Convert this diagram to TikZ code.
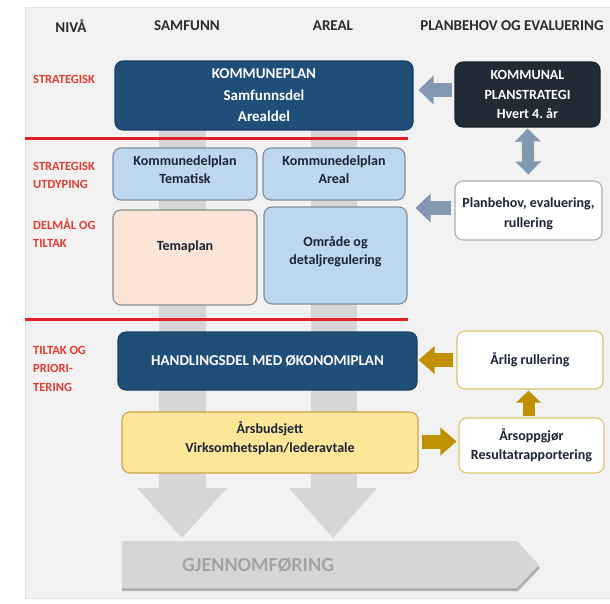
\documentclass[tikz,border=0pt]{standalone}
\usepackage{fontspec}
\setmainfont{Carlito}
\usetikzlibrary{arrows.meta,calc}
\definecolor{panelbg}{HTML}{F2F2F2}
\definecolor{panelline}{HTML}{E2E2E2}
\definecolor{darkblue}{HTML}{1F4E79}
\definecolor{darkblueline}{HTML}{1A4066}
\definecolor{navy}{HTML}{222A35}
\definecolor{lightblue}{HTML}{BDD7EE}
\definecolor{lightblueline}{HTML}{7F8C9D}
\definecolor{peach}{HTML}{FBE5D6}
\definecolor{greyline}{HTML}{8C8C8C}
\definecolor{yellowfill}{HTML}{FFE699}
\definecolor{goldline}{HTML}{C9A648}
\definecolor{paleline}{HTML}{D9C46A}
\definecolor{boxtext}{HTML}{1B2436}
\definecolor{headtext}{HTML}{2B2B2B}
\definecolor{redlabel}{HTML}{E03C31}
\definecolor{redline}{HTML}{E3202A}
\definecolor{bluearrow}{HTML}{8497B0}
\definecolor{goldarrow}{HTML}{BF9000}
\definecolor{barcol}{HTML}{D6D6D6}
\definecolor{bigshadow}{HTML}{AFAFAF}
\definecolor{gjtext}{HTML}{A3A3A3}
\newcommand\myfs[2]{\fontsize{#1}{#2}\selectfont\bfseries}
\begin{document}
\begin{tikzpicture}[x=1pt,y=-1pt,
  boxbase/.style={rounded corners=8pt, inner sep=0pt, align=center, line width=1.1pt},
  darkbox/.style={boxbase, fill=darkblue, draw=darkblueline, text=white, font=\myfs{15}{21.5}},
  navybox/.style={boxbase, fill=navy, draw=navy!80!black, text=white, font=\myfs{14}{19.5}},
  bluebox/.style={boxbase, fill=lightblue, draw=lightblueline, text=boxtext, font=\myfs{14}{18}},
  peachbox/.style={boxbase, fill=peach, draw=greyline, text=boxtext, font=\myfs{14}{18}},
  yellowbox/.style={boxbase, fill=yellowfill, draw=goldline, text=boxtext, font=\myfs{14}{19}},
  whitebox/.style={boxbase, fill=white, draw=greyline!70, text=boxtext, font=\myfs{14}{20}},
  goldbox/.style={boxbase, fill=white, draw=paleline, text=boxtext, font=\myfs{14}{19}},
  txt/.style={inner sep=0pt, align=center, text=boxtext, font=\myfs{14}{18}},
  header/.style={inner sep=0pt, text=headtext, font=\myfs{15}{18}},
  levellabel/.style={inner sep=0pt, anchor=west, align=left, text=redlabel, font=\myfs{12.5}{18.5}},
  sepline/.style={draw=redline, line width=3pt},
  blockblue/.style={draw=bluearrow, line width=14pt, -{Triangle[width=28pt,length=15pt]}},
  blockbluedouble/.style={draw=bluearrow, line width=12pt, {Triangle[width=25pt,length=13pt]}-{Triangle[width=25pt,length=13pt]}},
  blockgold/.style={draw=goldarrow, line width=14pt, -{Triangle[width=27pt,length=16pt]}},
  blockgoldup/.style={draw=goldarrow, line width=12pt, -{Triangle[width=24pt,length=12pt]}}
]
\useasboundingbox (0,0) rectangle (610,603);
% background panel
\fill[white] (0,0) rectangle (610,603);
\fill[panelbg, draw=panelline] (25,7) rectangle (611,598);

% column bars and down arrow heads
\fill[barcol] (159,100) rectangle (206,490);
\fill[barcol] (311,100) rectangle (357,490);
\fill[barcol] (137,488) -- (227,488) -- (182,538) -- cycle;
\fill[barcol] (289,488) -- (377,488) -- (333,538) -- cycle;

% implementation arrow
\fill[bigshadow] (122,544) -- (518,544) -- (540,568) -- (518,591) -- (122,591) -- cycle;
\fill[barcol] (122,541) -- (517,541) -- (539,565) -- (517,588) -- (122,588) -- cycle;
\node[inner sep=0pt, anchor=west, text=gjtext, font=\myfs{20}{24}] (gj) at (182,565) {GJENNOMFØRING};

% separator lines
\draw[sepline] (25,138) -- (408,138);
\draw[sepline] (25,319) -- (408,319);

% headers
\node[header] (hniva) at (71,26) {NIVÅ};
\node[header] (hsam) at (187,26) {SAMFUNN};
\node[header] (hareal) at (333,26) {AREAL};
\node[header] (hplan) at (512,26) {PLANBEHOV OG EVALUERING};

% level labels
\node[levellabel] (l1) at (33,79) {STRATEGISK};
\node[levellabel] (l2) at (33,175.5) {STRATEGISK\\UTDYPING};
\node[levellabel] (l3) at (33,233) {DELMÅL OG\\TILTAK};
\node[levellabel] (l4) at (33,368.5) {TILTAK OG\\PRIORI-\\TERING};

% main boxes
\node[darkbox, minimum width=298pt, minimum height=69pt] (kp) at (264,95.5)
  {KOMMUNEPLAN\\Samfunnsdel\\Arealdel};
\node[bluebox, minimum width=144pt, minimum height=52pt] (kt) at (185,174) {};
\node[txt] (ktt) at (185,170) {Kommunedelplan\\Tematisk};
\node[bluebox, minimum width=142pt, minimum height=52pt] (ka) at (334,174) {};
\node[txt] (kat) at (334,170) {Kommunedelplan\\Areal};
\node[peachbox, minimum width=144pt, minimum height=95pt] (tema) at (185,257.5) {};
\node[txt] (temat) at (185,247) {Temaplan};
\node[bluebox, minimum width=143pt, minimum height=97pt] (omr) at (335.5,255.5) {};
\node[txt] (omrt) at (335.5,252) {Område og\\detaljregulering};
\node[darkbox, minimum width=299pt, minimum height=58pt] (hand) at (267.5,361)
  {HANDLINGSDEL MED ØKONOMIPLAN};
\node[yellowbox, minimum width=296pt, minimum height=61pt] (ars) at (270,442.5) {};
\node[txt, font=\myfs{14}{19}] (arst) at (270,438) {Årsbudsjett\\Virksomhetsplan/lederavtale};

% right column
\node[navybox, minimum width=145pt, minimum height=65pt] (kom) at (527.5,94.5)
  {KOMMUNAL\\PLANSTRATEGI\\Hvert 4.\ år};
\node[whitebox, minimum width=147pt, minimum height=59pt] (plb) at (528.5,210.5) {};
\node[txt, font=\myfs{14}{20}] (plbt) at (528.5,214) {Planbehov, evaluering,\\rullering};
\node[goldbox, minimum width=146pt, minimum height=58pt] (arl) at (530,360) {Årlig rullering};
\node[goldbox, minimum width=145pt, minimum height=55pt] (aro) at (531.5,445.5)
  {Årsoppgjør\\Resultatrapportering};

% connectors
\draw[blockblue, shorten <=2pt, shorten >=5pt] ([yshift=4.5pt]kom.west) -- ([yshift=4.5pt]kom.west -| kp.east);
\draw[blockbluedouble, shorten <=1pt, shorten >=6pt] (kom.south) -- (plb.north);
\draw[blockblue, shorten <=3pt, shorten >=8pt] ([yshift=2.5pt]plb.west) -- ([yshift=2.5pt]plb.west -| omr.east);
\draw[blockgold, shorten <=3pt, shorten >=1pt] (arl.west) -- (arl.west -| hand.east);
\draw[blockgoldup, shorten <=1pt, shorten >=1pt] ([xshift=-3pt]aro.north) -- ([xshift=-3pt]aro.north |- arl.south);
\draw[blockgold, shorten <=3pt, shorten >=2pt] ([yshift=1pt]ars.east) -- ([yshift=1pt]ars.east -| aro.west);
\end{tikzpicture}
\end{document}
